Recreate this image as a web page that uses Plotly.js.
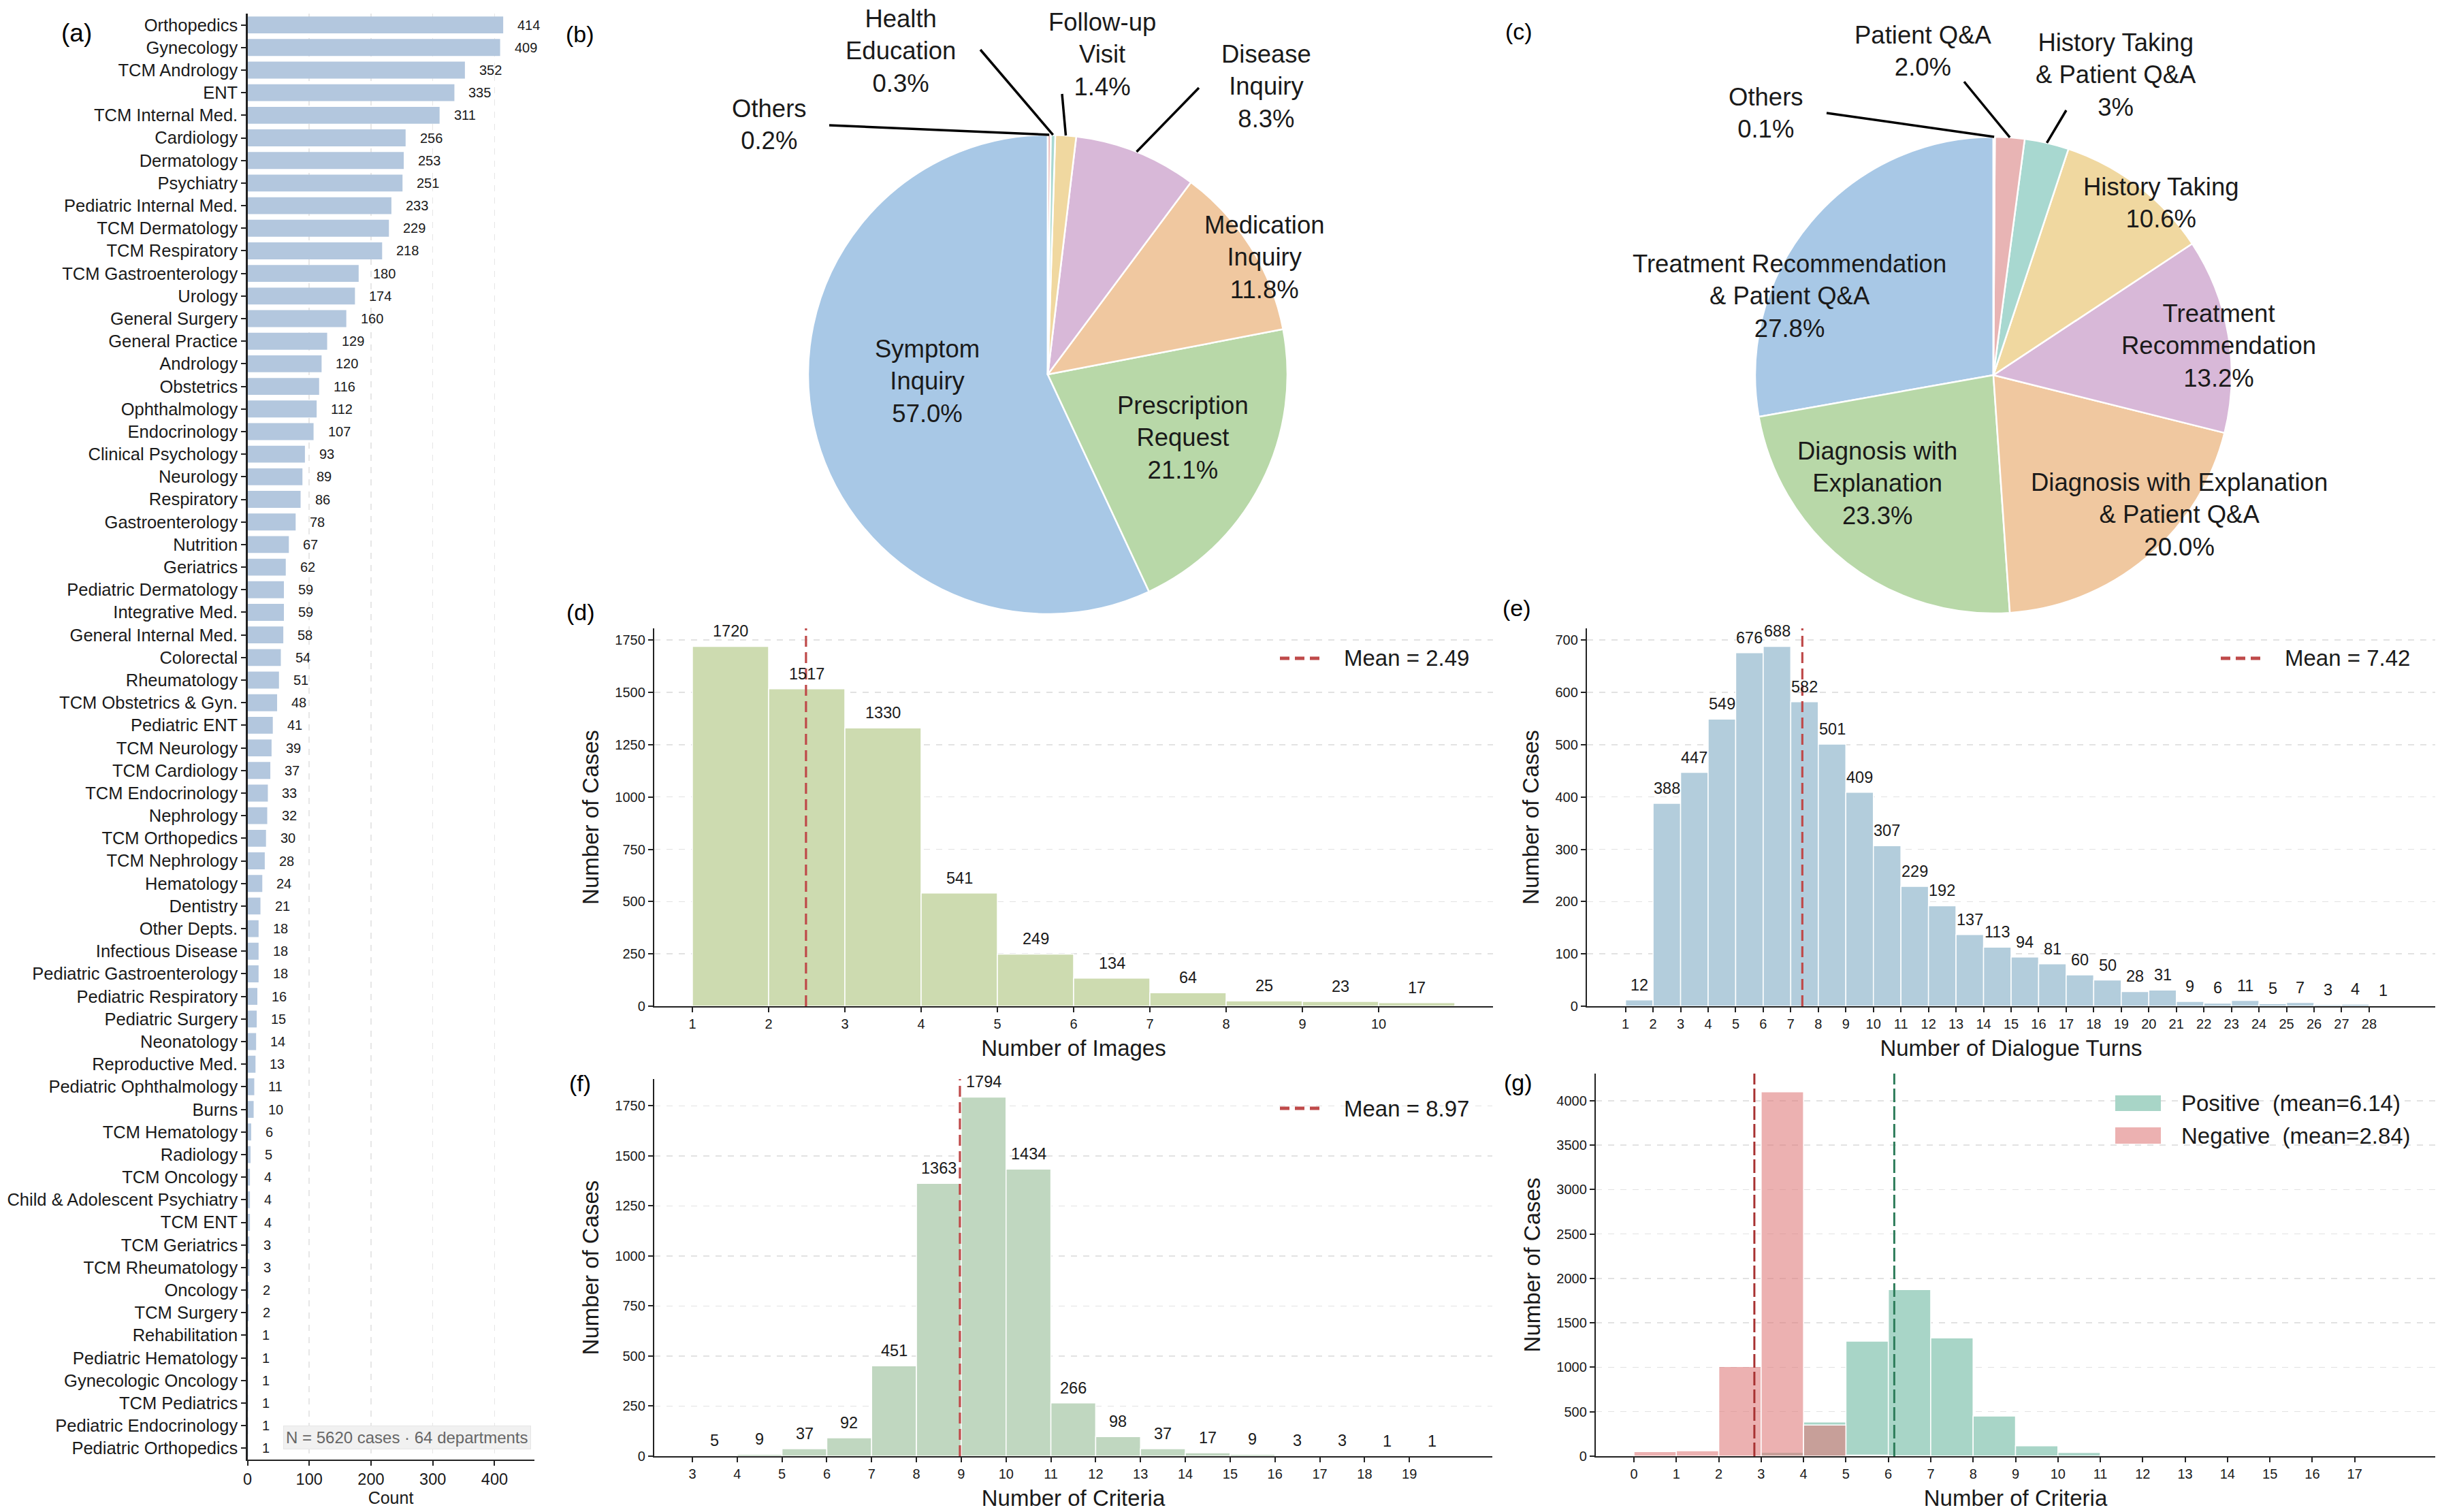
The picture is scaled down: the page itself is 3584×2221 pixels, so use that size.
<!DOCTYPE html>
<html><head><meta charset="utf-8">
<script src="https://cdn.plot.ly/plotly-3.0.1.min.js"></script>
<style>html,body{margin:0;padding:0;background:#fff}</style>
</head><body><div id="chart" style="width:3584px;height:2221px"></div>
<script>
// ---------------- DATA ----------------
const departments = ["Orthopedics","Gynecology","TCM Andrology","ENT","TCM Internal Med.","Cardiology","Dermatology","Psychiatry","Pediatric Internal Med.","TCM Dermatology","TCM Respiratory","TCM Gastroenterology","Urology","General Surgery","General Practice","Andrology","Obstetrics","Ophthalmology","Endocrinology","Clinical Psychology","Neurology","Respiratory","Gastroenterology","Nutrition","Geriatrics","Pediatric Dermatology","Integrative Med.","General Internal Med.","Colorectal","Rheumatology","TCM Obstetrics & Gyn.","Pediatric ENT","TCM Neurology","TCM Cardiology","TCM Endocrinology","Nephrology","TCM Orthopedics","TCM Nephrology","Hematology","Dentistry","Other Depts.","Infectious Disease","Pediatric Gastroenterology","Pediatric Respiratory","Pediatric Surgery","Neonatology","Reproductive Med.","Pediatric Ophthalmology","Burns","TCM Hematology","Radiology","TCM Oncology","Child & Adolescent Psychiatry","TCM ENT","TCM Geriatrics","TCM Rheumatology","Oncology","TCM Surgery","Rehabilitation","Pediatric Hematology","Gynecologic Oncology","TCM Pediatrics","Pediatric Endocrinology","Pediatric Orthopedics"];
const deptCounts = [414,409,352,335,311,256,253,251,233,229,218,180,174,160,129,120,116,112,107,93,89,86,78,67,62,59,59,58,54,51,48,41,39,37,33,32,30,28,24,21,18,18,18,16,15,14,13,11,10,6,5,4,4,4,3,3,2,2,1,1,1,1,1,1];

const intentLabels = ["Symptom Inquiry","Prescription Request","Medication Inquiry","Disease Inquiry","Follow-up Visit","Health Education","Others"];
const intentLines = ["Symptom<br>Inquiry","Prescription<br>Request","Medication<br>Inquiry","Disease<br>Inquiry","Follow-up<br>Visit","Health<br>Education","Others"];
const intentShares = [57.0,21.1,11.8,8.3,1.4,0.3,0.2];
const intentPctText = ["57.0%","21.1%","11.8%","8.3%","1.4%","0.3%","0.2%"];

const responseLabels = ["Treatment Recommendation & Patient Q&A","Diagnosis with Explanation","Diagnosis with Explanation & Patient Q&A","Treatment Recommendation","History Taking","History Taking & Patient Q&A","Patient Q&A","Others"];
const responseLines = ["Treatment Recommendation<br>& Patient Q&A","Diagnosis with<br>Explanation","Diagnosis with Explanation<br>& Patient Q&A","Treatment<br>Recommendation","History Taking","History Taking<br>& Patient Q&A","Patient Q&A","Others"];
const responseShares = [27.8,23.3,20.0,13.2,10.6,3.0,2.0,0.1];
const responsePctText = ["27.8%","23.3%","20.0%","13.2%","10.6%","3%","2.0%","0.1%"];

const imageBins = [1,2,3,4,5,6,7,8,9,10];
const imageCounts = [1720,1517,1330,541,249,134,64,25,23,17];
const imageMean = 2.49;

const turnBins = [1,2,3,4,5,6,7,8,9,10,11,12,13,14,15,16,17,18,19,20,21,22,23,24,25,26,27,28];
const turnCounts = [12,388,447,549,676,688,582,501,409,307,229,192,137,113,94,81,60,50,28,31,9,6,11,5,7,3,4,1];
const turnMean = 7.42;

const criteriaBins = [3,4,5,6,7,8,9,10,11,12,13,14,15,16,17,18,19];
const criteriaCounts = [5,9,37,92,451,1363,1794,1434,266,98,37,17,9,3,3,1,1];
const criteriaMean = 8.97;

const rubricBins = [0,1,2,3,4,5,6,7,8,9,10,11,12,13,14,15,16,17];
const positiveCounts = [0,0,0,45,385,1295,1875,1330,452,116,43,10,5,2,1,1,0,1];
const negativeCounts = [52,62,1009,4100,350,12,3,0,0,0,0,0,0,0,0,0,0,0];
const positiveMean = 6.14;
const negativeMean = 2.84;

// ---------------- STYLE / LAYOUT HELPERS ----------------
const W = 3584, H = 2221;
const X = p => p / W, Y = p => 1 - p / H;
const FONT = "Liberation Sans, Arial, Helvetica, sans-serif";
const INK = "#1a1a1a";
const boxA = {x0:363.5, x1:784.5, y0:20, y1:2144};
const boxD = {x0:961, x1:2193, y0:923, y1:1478};
const boxE = {x0:2331, x1:3577, y0:923, y1:1478};
const boxF = {x0:961, x1:2192, y0:1585, y1:2139};
const boxG = {x0:2344, x1:3577, y0:1577, y1:2139};
const pieB = {cx:1539, cy:550, r:352};
const pieC = {cx:2928, cy:551, r:350};
const pastel = ['#a8c8e6','#b8d8a8','#f0c8a0','#d8b8d8','#f0d8a0','#a8d8d0','#e8b4b4','#d6d6d6'];
const domX = b => [X(b.x0), X(b.x1)];
const domY = b => [Y(b.y1), Y(b.y0)];

const traces = [];
const annotations = [];
const shapes = [];

// ---- (a) horizontal bars ----
traces.push({type:'bar', orientation:'h', x:deptCounts, y:departments, width:0.75,
  marker:{color:'#b3c7de'}, xaxis:'x', yaxis:'y', hoverinfo:'skip'});
departments.forEach((d,i)=>{
  annotations.push({xref:'x', yref:'y', x:deptCounts[i], y:d, text:String(deptCounts[i]),
    xanchor:'left', yanchor:'middle', xshift:19, showarrow:false, font:{size:20, color:INK}});
});
const totalCases = deptCounts.reduce((a,b)=>a+b,0);
annotations.push({xref:'paper', yref:'paper', x:X(598), y:Y(2111), xanchor:'center', yanchor:'middle',
  text:'N = '+totalCases+' cases · '+departments.length+' departments', showarrow:false,
  font:{size:24, color:'#666'}, bgcolor:'#f1f1f1', bordercolor:'#e6e6e6', borderwidth:1, borderpad:3});

// ---- pies ----
function addPie(labels, shares, box, lines, pctText, labelPos, leaders){
  const total = shares.reduce((a,b)=>a+b,0);
  // first slice starts at 12 o'clock and runs counterclockwise
  const rot = -360 * shares[0] / total;
  traces.push({type:'pie', labels:labels, values:shares, sort:false, direction:'counterclockwise', rotation:rot,
    textinfo:'none', hoverinfo:'skip', showlegend:false,
    marker:{colors:pastel.slice(0,labels.length), line:{color:'#ffffff', width:2.5}},
    domain:{x:[X(box.cx-box.r), X(box.cx+box.r)], y:[Y(box.cy+box.r), Y(box.cy-box.r)]}});
  let cum = 0;
  shares.forEach((v,i)=>{
    const mid = (90 + (cum + v/2)/total*360) * Math.PI/180; cum += v;
    annotations.push({xref:'paper', yref:'paper', x:X(labelPos[i][0]), y:Y(labelPos[i][1]),
      xanchor:'center', yanchor:'middle', align:'center', showarrow:false,
      text:lines[i]+'<br>'+pctText[i], font:{size:36.5, color:INK}});
    if (leaders[i]) {
      const ex = box.cx + box.r*Math.cos(mid), ey = box.cy - box.r*Math.sin(mid);
      shapes.push({type:'line', xref:'paper', yref:'paper', x0:X(leaders[i][0]), y0:Y(leaders[i][1]),
        x1:X(ex), y1:Y(ey), line:{color:'#000', width:3.5}});
    }
  });
}
addPie(intentLabels, intentShares, pieB, intentLines, intentPctText,
  [[1362,560],[1737,643],[1857,378],[1860,127],[1619,80],[1323,75],[1130,183]],
  [null,null,null,[1761,129],[1560,138],[1440,73],[1218,184]]);
addPie(responseLabels, responseShares, pieC, responseLines, responsePctText,
  [[2628,435],[2757,710],[3201,756],[3259,508],[3174,298],[3108,110],[2825,75],[2594,166]],
  [null,null,null,null,null,[3035,162],[2885,120],[2683,166]]);

// ---- histograms ----
function addHist(bins, counts, ax, color, withLabels){
  traces.push({type:'bar', x:bins.map(b=>b+0.5), y:counts, width:1,
    xaxis:'x'+ax, yaxis:'y'+ax, hoverinfo:'skip',
    marker:{color:color, line:{color:'#ffffff', width:1.5}}});
  if (withLabels) counts.forEach((c,i)=>{
    annotations.push({xref:'x'+ax, yref:'y'+ax, x:bins[i]+0.5, y:c, text:String(c), xanchor:'center',
      yanchor:'bottom', yshift:7, showarrow:false, font:{size:23.5, color:INK}});
  });
}
addHist(imageBins, imageCounts, 2, '#cddbb0', true);
addHist(turnBins, turnCounts, 3, '#b3cddc', true);
addHist(criteriaBins, criteriaCounts, 4, '#c0d7c0', true);
addHist(rubricBins, positiveCounts, 5, 'rgb(168,213,199)', false);
addHist(rubricBins, negativeCounts, 5, 'rgba(222,120,120,0.58)', false);

function meanLine(ax, m, color, dash, width){
  shapes.push({type:'line', xref:'x'+ax, yref:'y'+ax+' domain', x0:m, x1:m, y0:0, y1:1,
    line:{color:color, width:width, dash:dash}});
}
const meanRed = '#bf4a4a';
meanLine(2, imageMean, meanRed, '16px,8px', 3.2);
meanLine(3, turnMean, meanRed, '16px,8px', 3.2);
meanLine(4, criteriaMean, meanRed, '16px,8px', 3.2);
meanLine(5, negativeMean, '#a83232', '20px,6px', 3);
meanLine(5, positiveMean, '#2e7d5b', '20px,6px', 3);

function meanLegend(x0, y, m){
  shapes.push({type:'line', xref:'paper', yref:'paper', x0:X(x0), x1:X(x0+61), y0:Y(y), y1:Y(y),
    line:{color:meanRed, width:5, dash:'14px,8px'}});
  annotations.push({xref:'paper', yref:'paper', x:X(x0+92), y:Y(y), xanchor:'left', yanchor:'middle',
    text:'Mean = '+m.toFixed(2), showarrow:false, font:{size:33, color:INK}});
}
meanLegend(1880, 967, imageMean);
meanLegend(3262, 967, turnMean);
meanLegend(1880, 1628, criteriaMean);

[['Positive\u00a0\u00a0(mean='+positiveMean.toFixed(2)+')','rgb(168,213,199)',1609,1632],
 ['Negative\u00a0\u00a0(mean='+negativeMean.toFixed(2)+')','rgba(222,120,120,0.58)',1656,1680]].forEach(e=>{
  shapes.push({type:'rect', xref:'paper', yref:'paper', x0:X(3107), x1:X(3174), y0:Y(e[3]), y1:Y(e[2]),
    fillcolor:e[1], line:{width:0}});
  annotations.push({xref:'paper', yref:'paper', x:X(3202), y:Y((e[2]+e[3])/2), xanchor:'left', yanchor:'middle',
    text:e[0], showarrow:false, font:{size:33, color:INK}});
});

// panel letters
[['(a)',112,48,37],['(b)',852,50,34],['(c)',2231,46,34],['(d)',853,899,34],['(e)',2228,893,34],['(f)',852,1591,34],['(g)',2230,1590,34]]
 .forEach(p=>annotations.push({xref:'paper', yref:'paper', x:X(p[1]), y:Y(p[2]), xanchor:'center', yanchor:'middle',
   text:p[0], showarrow:false, font:{size:p[3], color:'#000'}}));

// axes
function histX(box, bins, title){
  const lo = bins[0], hi = bins[bins.length-1]+1, m = 0.05*(hi-lo);
  return {domain:domX(box), range:[lo-m, hi+m], tickmode:'array', tickvals:bins, showgrid:false, zeroline:false,
    showline:true, linecolor:'#222', linewidth:2.2, ticks:'outside', ticklen:7, tickwidth:2, tickcolor:'#222',
    tickfont:{size:20, color:INK}, automargin:false,
    title:{text:title, font:{size:33, color:INK}, standoff:14}};
}
function histY(box, counts, dtick, anchor){
  return {domain:domY(box), range:[0, Math.max(...counts)*1.05], dtick:dtick, anchor:anchor,
    showgrid:true, gridcolor:'#e2e2e2', griddash:'dash', gridwidth:1.5, zeroline:false,
    showline:true, linecolor:'#222', linewidth:2.2, ticks:'outside', ticklen:7, tickwidth:2, tickcolor:'#222',
    tickfont:{size:20, color:INK}, automargin:false,
    title:{text:'Number of Cases', font:{size:33, color:INK}, standoff:14}};
}

const layout = {
  width:W, height:H, margin:{l:0,r:0,t:0,b:0}, paper_bgcolor:'#fff', plot_bgcolor:'#fff',
  font:{family:FONT, color:INK}, showlegend:false, barmode:'overlay',
  xaxis:{domain:domX(boxA), range:[0,464], tickvals:[0,100,200,300,400], anchor:'y',
    showgrid:true, gridcolor:'#e6e6e6', griddash:'dash', gridwidth:1.5, zeroline:false,
    showline:true, linecolor:'#222', linewidth:2.2, ticks:'outside', ticklen:7, tickwidth:2, tickcolor:'#222',
    tickfont:{size:23.5, color:INK}, automargin:false, title:{text:'Count', font:{size:25, color:INK}, standoff:6}},
  yaxis:{domain:domY(boxA), type:'category', range:[departments.length-0.5,-0.5], anchor:'x', dtick:1,
    showgrid:false, zeroline:false, showline:true, linecolor:'#222', linewidth:2.2,
    ticks:'outside', ticklen:7, tickwidth:2, tickcolor:'#222', tickfont:{size:25.5, color:INK}, automargin:false},
  xaxis2:Object.assign(histX(boxD, imageBins, 'Number of Images'), {anchor:'y2'}),
  yaxis2:histY(boxD, imageCounts, 250, 'x2'),
  xaxis3:Object.assign(histX(boxE, turnBins, 'Number of Dialogue Turns'), {anchor:'y3'}),
  yaxis3:histY(boxE, turnCounts, 100, 'x3'),
  xaxis4:Object.assign(histX(boxF, criteriaBins, 'Number of Criteria'), {anchor:'y4'}),
  yaxis4:histY(boxF, criteriaCounts, 250, 'x4'),
  xaxis5:Object.assign(histX(boxG, rubricBins, 'Number of Criteria'), {anchor:'y5'}),
  yaxis5:histY(boxG, negativeCounts, 500, 'x5'),
  annotations:annotations, shapes:shapes
};

Plotly.newPlot('chart', traces, layout, {staticPlot:true, displayModeBar:false});
</script>
</body></html>
